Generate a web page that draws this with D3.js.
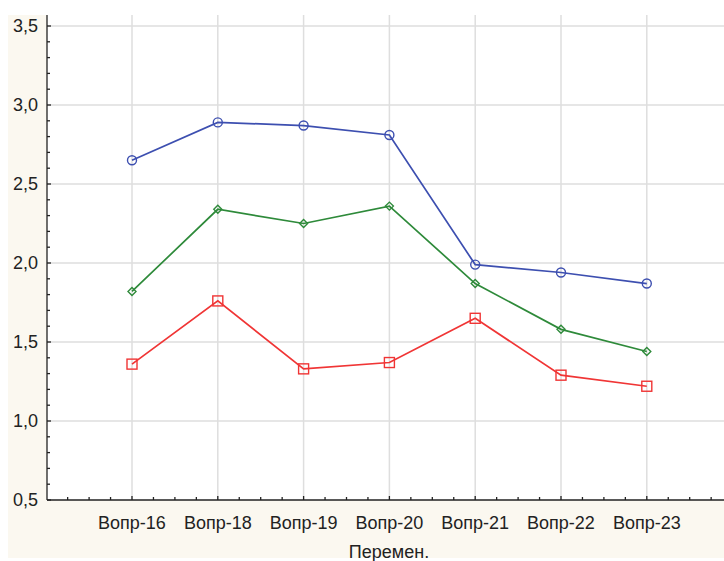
<!DOCTYPE html>
<html><head><meta charset="utf-8">
<script src="https://cdn.jsdelivr.net/npm/d3@7"></script>
<style>body{margin:0;background:#fff}svg{display:block}text{font-family:"Liberation Sans",Arial,sans-serif}</style>
</head><body>
<svg id="c" width="724" height="561"></svg>
<script>
const categories = ["Вопр-16","Вопр-18","Вопр-19","Вопр-20","Вопр-21","Вопр-22","Вопр-23"];
const blueValues  = [2.65, 2.89, 2.87, 2.81, 1.99, 1.94, 1.87];
const greenValues = [1.82, 2.34, 2.25, 2.36, 1.87, 1.58, 1.44];
const redValues   = [1.36, 1.76, 1.33, 1.37, 1.65, 1.29, 1.22];
const yTicks = [0.5, 1.0, 1.5, 2.0, 2.5, 3.0, 3.5];
const xTitle = "Перемен.";

const svg = d3.select("#c");
const L = 47, R = 724, T = 15, B = 500;
svg.append("rect").attr("x",8).attr("y",15).attr("width",716).attr("height",543).attr("fill","#fbf8f0");
svg.append("rect").attr("x",L).attr("y",T).attr("width",R-L).attr("height",B-T).attr("fill","#fff");

const y = d3.scaleLinear().domain([0.5,3.5]).range([500,26]);
const step = 85.8;
const xi = d3.scaleLinear().domain([0,1]).range([132,132+step]);
const x = i => xi(i);

// grid
const grid = svg.append("g").attr("stroke","#dedede").attr("stroke-width",1.5);
yTicks.filter(v=>v>0.5).forEach(v=>grid.append("line").attr("x1",L).attr("x2",R).attr("y1",y(v)).attr("y2",y(v)));
categories.forEach((c,i)=>grid.append("line").attr("x1",x(i)).attr("x2",x(i)).attr("y1",T).attr("y2",B));

// axes
const ax = svg.append("g").attr("stroke","#222").attr("stroke-width",1.3);
ax.append("line").attr("x1",L).attr("x2",L).attr("y1",T).attr("y2",B);
ax.append("line").attr("x1",L).attr("x2",R).attr("y1",B).attr("y2",B);
d3.range(0.5,3.501,0.1).forEach(v=>{
  const isMajor = Math.abs(v*2-Math.round(v*2))<1e-6;
  ax.append("line").attr("x1",L).attr("x2",L+(isMajor?4:3)).attr("y1",y(v)).attr("y2",y(v));
});
for(let k=-3;xi(k/4)<=R;k++){
  const px = xi(k/4);
  if(px<=L+2) continue;
  const isMajor = k%4===0;
  ax.append("line").attr("x1",px).attr("x2",px).attr("y1",B).attr("y2",B-(isMajor?4:3));
}

// tick labels
const lab = svg.append("g").attr("fill","#222").attr("font-size",18);
yTicks.forEach(v=>lab.append("text").attr("x",38).attr("y",y(v)+6).attr("text-anchor","end").text(d3.format(".1f")(v).replace(".",",")));
categories.forEach((c,i)=>lab.append("text").attr("x",x(i)).attr("y",529).attr("text-anchor","middle").text(c));
lab.append("text").attr("x",389).attr("y",558).attr("text-anchor","middle").text(xTitle);

const line = d3.line().x((d,i)=>x(i)).y(d=>y(d));
function series(vals,color,marker){
  const g = svg.append("g");
  g.append("path").attr("d",line(vals)).attr("fill","none").attr("stroke",color).attr("stroke-width",1.7);
  vals.forEach((v,i)=>{
    const cx=x(i), cy=y(v);
    if(marker==="circle") g.append("circle").attr("cx",cx).attr("cy",cy).attr("r",4.5).attr("fill","none").attr("stroke",color).attr("stroke-width",1.4);
    else if(marker==="square") g.append("rect").attr("x",cx-5).attr("y",cy-5).attr("width",10).attr("height",10).attr("fill","none").attr("stroke",color).attr("stroke-width",1.4);
    else g.append("path").attr("d",`M${cx},${cy-4}L${cx+4},${cy}L${cx},${cy+4}L${cx-4},${cy}Z`).attr("fill","none").attr("stroke",color).attr("stroke-width",1.4);
  });
}
series(blueValues,"#3d4fb0","circle");
series(greenValues,"#2e8a3a","diamond");
series(redValues,"#f03535","square");
</script>
</body></html>
